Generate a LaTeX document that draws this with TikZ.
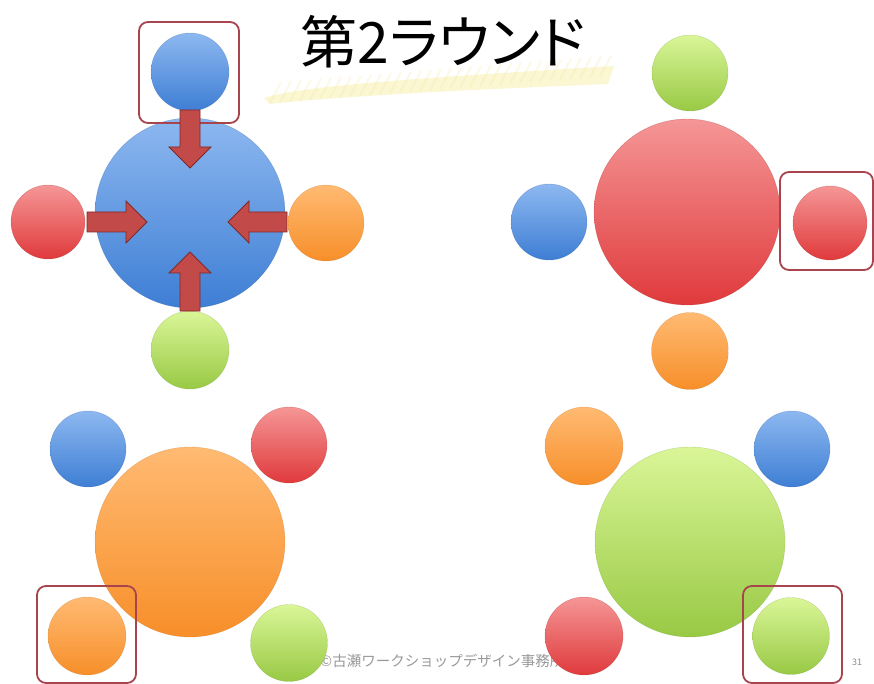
\documentclass[tikz,border=0pt]{standalone}
\usepackage{fontspec}
\newfontfamily\jp[RawFeature=+palt]{Noto Sans CJK JP}
\newfontfamily\jpm{Noto Sans CJK JP}
\usetikzlibrary{calc}
\definecolor{blueT}{HTML}{8DB8F0}
\definecolor{blueB}{HTML}{3E7ED4}
\definecolor{redT}{HTML}{F59696}
\definecolor{redB}{HTML}{E03A3C}
\definecolor{orT}{HTML}{FFBA72}
\definecolor{orB}{HTML}{F78F2A}
\definecolor{grT}{HTML}{DAF698}
\definecolor{grB}{HTML}{98C944}
\definecolor{boxred}{HTML}{A8444E}
\definecolor{arrowfill}{HTML}{C24A48}
\definecolor{arrowline}{HTML}{7E2A2A}
\definecolor{hl}{HTML}{F4EE9C}
\tikzset{
  ball/.style={circle, inner sep=0pt, minimum size=#1},
  blueball/.style={ball=#1, top color=blueT, bottom color=blueB, draw=blueB!70!black, draw opacity=0.35},
  redball/.style={ball=#1, top color=redT, bottom color=redB, draw=redB!70!black, draw opacity=0.35},
  orball/.style={ball=#1, top color=orT, bottom color=orB, draw=orB!70!black, draw opacity=0.3},
  grball/.style={ball=#1, top color=grT, bottom color=grB, draw=grB!70!black, draw opacity=0.3},
  selbox/.style={draw=boxred, line width=1.8pt, rounded corners=9pt},
  barrow/.style={fill=arrowfill, draw=arrowline, line width=0.8pt, line join=miter},
  footer/.style={text=black!40, font=\jpm\fontsize{14.5}{16}\selectfont, inner sep=0pt},
}
\newcommand{\blockarrow}[2]{%
  \coordinate (hb) at ($(#2)!21pt!(#1)$);
  \draw[barrow] ($(#1)!10pt!90:(#2)$) -- ($(hb)!10pt!90:(#2)$) -- ($(hb)!21pt!90:(#2)$)
    -- (#2) -- ($(hb)!21pt!-90:(#2)$) -- ($(hb)!10pt!-90:(#2)$) -- ($(#1)!10pt!-90:(#2)$) -- cycle;}
\begin{document}
\begin{tikzpicture}[x=1pt,y=-1pt]
\useasboundingbox[fill=white] (0,0) rectangle (874,684);
% highlight stroke under title
\fill[hl, opacity=0.45] (264,98) .. controls (300,86) and (420,78) .. (614,66) -- (608,84) .. controls (460,90) and (330,97) .. (270,104) -- cycle;
\foreach \i in {0,...,33}{
  \draw[hl!85!orange, opacity=0.18, line width=2pt] ({270+10*\i},{103-0.8*\i}) -- ({281+10*\i},{82-0.8*\i});
}
\node[font=\jp\fontsize{57}{60}\selectfont, inner sep=0pt] (title) at (443,42) {第2ラウンド};
% footer
\node[footer, anchor=west] (foot) at (320,661) {©古瀬ワークショップデザイン事務所};
\node[text=black!45, font=\jp\fontsize{9}{10}\selectfont, inner sep=0pt] (pnum) at (857,662) {31};

% group 1 (top-left)
\node[blueball=190] (c1) at (190,213) {};
\node[blueball=78] (c1t) at (190,72) {};
\node[redball=74] (c1l) at (48,222) {};
\node[orball=76] (c1r) at (326,223) {};
\node[grball=78] (c1b) at (190,350) {};
\node[selbox, minimum width=100pt, minimum height=101pt] (b1) at (189,72.5) {};
\coordinate (a1s) at (190,110); \coordinate (a1e) at (190,168);
\coordinate (a2s) at (87,222);  \coordinate (a2e) at (147,222);
\coordinate (a3s) at (287,222); \coordinate (a3e) at (228,222);
\coordinate (a4s) at (190,311); \coordinate (a4e) at (190,252);
\blockarrow{a1s}{a1e}
\blockarrow{a2s}{a2e}
\blockarrow{a3s}{a3e}
\blockarrow{a4s}{a4e}

% group 2 (top-right)
\node[redball=186] (c2) at (687,212) {};
\node[grball=76] (c2t) at (690,73) {};
\node[blueball=76] (c2l) at (549,222) {};
\node[redball=74] (c2r) at (830,223) {};
\node[orball=77] (c2b) at (690,351) {};
\node[selbox, minimum width=93pt, minimum height=98pt] (b2) at (826.5,221) {};

% group 3 (bottom-left)
\node[orball=190] (c3) at (190,542) {};
\node[blueball=76] (c3a) at (88,449) {};
\node[redball=76] (c3b) at (289,445) {};
\node[orball=78] (c3c) at (87,636) {};
\node[grball=77] (c3d) at (289,643) {};
\node[selbox, minimum width=99pt, minimum height=97pt] (b3) at (86.5,634.5) {};

% group 4 (bottom-right)
\node[grball=190] (c4) at (690,542) {};
\node[orball=78] (c4a) at (584,446) {};
\node[blueball=76] (c4b) at (792,449) {};
\node[redball=78] (c4c) at (584,636) {};
\node[grball=77] (c4d) at (791,636) {};
\node[selbox, minimum width=99pt, minimum height=97pt] (b4) at (792.5,634.5) {};
\end{tikzpicture}
\end{document}
